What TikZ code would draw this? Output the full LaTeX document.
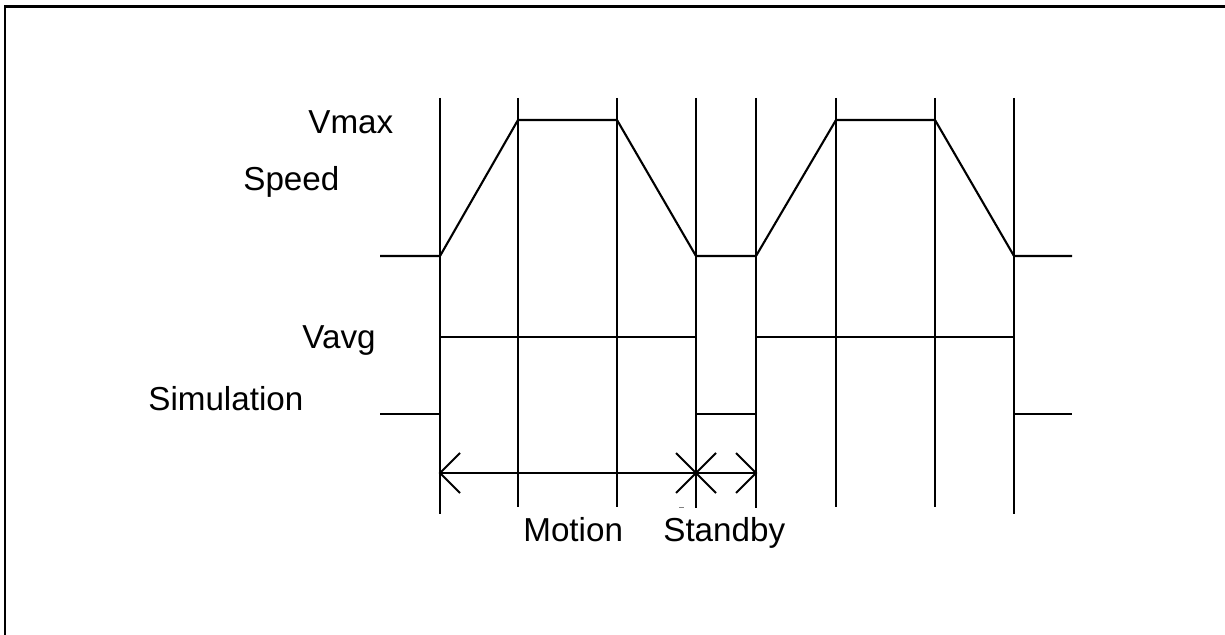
\documentclass[tikz,border=0pt]{standalone}
\usepackage{fontspec}
\setmainfont{Liberation Sans}
\begin{document}
\begin{tikzpicture}[x=0.02cm,y=-0.02cm,
  trace/.style={line width=1.2pt,line join=miter},
  grid/.style={line width=1.1pt},
  lbl/.style={anchor=base west,inner sep=0pt,font=\fontsize{18.9pt}{22pt}\selectfont},
  span/.style={line width=1.1pt},
  barb/.style={line width=1.1pt,line join=miter}]
\useasboundingbox (0,0) rectangle (1225,635);
\clip (0,0) rectangle (1225,635);
\fill[white] (0,0) rectangle (1225,635);
% frame (only top and left visible)
\draw[line width=1.7pt] (5,6.5) rectangle (1260,680);
% vertical time lines
\foreach \x/\b in {440/514,518/507,617/507,696/508,756/508,836/507,935/507,1014/514}
  \draw[grid] (\x,98) -- (\x,\b);
% speed trace
\draw[trace] (380,256) -- (440,256) -- (518,120) -- (617,120) -- (696,256) -- (756,256)
  -- (836,120) -- (935,120) -- (1014,256) -- (1072,256);
% simulation trace
\draw[trace] (380,414) -- (440,414) -- (440,337) -- (696,337) -- (696,414) -- (756,414)
  -- (756,337) -- (1014,337) -- (1014,414) -- (1072,414);
% spans
\coordinate (m0) at (440,473);
\coordinate (m1) at (696,473);
\coordinate (m2) at (756,473);
\draw[span] (m0) -- (m2);
\draw[barb] ([shift={(20,-20)}]m0) -- (m0) -- ([shift={(20,20)}]m0);
\draw[barb] ([shift={(-20,-20)}]m1) -- (m1) -- ([shift={(-20,20)}]m1);
\draw[barb] ([shift={(20,-20)}]m1) -- (m1) -- ([shift={(20,20)}]m1);
\draw[barb] ([shift={(-20,-20)}]m2) -- (m2) -- ([shift={(-20,20)}]m2);
\draw[line width=0.6pt,gray] (679,507.5) -- (684,507.5);
% labels
\node[lbl] (vmax) at (308,133) {Vmax};
\node[lbl] (speed) at (243,191) {Speed};
\node[lbl] (vavg) at (302,348) {Vavg};
\node[lbl] (sim) at (148,410) {Simulation};
\node[lbl] (motion) at (523,541) {Motion};
\node[lbl] (standby) at (663,541) {Standby};
\end{tikzpicture}
\end{document}
